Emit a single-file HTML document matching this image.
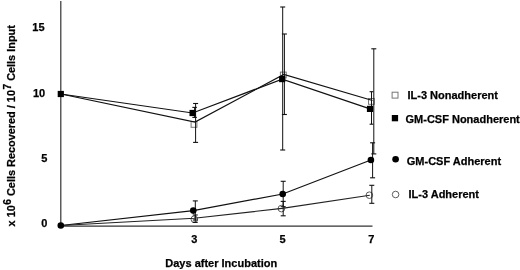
<!DOCTYPE html>
<html><head><meta charset="utf-8"><style>
html,body{margin:0;padding:0;background:#fff;}
body{width:520px;height:270px;overflow:hidden;}
svg{display:block;filter:grayscale(1);}
text{font-family:"Liberation Sans",sans-serif;font-weight:bold;font-size:11px;fill:#000;stroke:#000;stroke-width:0.25px;}
</style></head><body>
<svg width="520" height="270" viewBox="0 0 520 270">
<line x1="60.8" y1="1" x2="60.8" y2="226.3" stroke="#333" stroke-width="1.2"/>
<line x1="60.5" y1="226.2" x2="372.5" y2="226.2" stroke="#333" stroke-width="1.2"/>
<rect x="191.1" y="121.5" width="5.8" height="5.8" fill="#fff" stroke="#777" stroke-width="1"/>
<rect x="280.40000000000003" y="72.1" width="5.8" height="5.8" fill="#fff" stroke="#777" stroke-width="1"/>
<rect x="368.5" y="98.5" width="5.8" height="5.8" fill="#fff" stroke="#777" stroke-width="1"/>
<circle cx="194.3" cy="219.2" r="3.3" fill="#fff" stroke="#555" stroke-width="0.95"/>
<circle cx="281.4" cy="208.6" r="3.3" fill="#fff" stroke="#555" stroke-width="0.95"/>
<circle cx="369.4" cy="195.2" r="3.3" fill="#fff" stroke="#555" stroke-width="0.95"/>
<line x1="195.6" y1="103.5" x2="195.6" y2="142.4" stroke="#111" stroke-width="1"/>
<line x1="193.1" y1="103.5" x2="198.1" y2="103.5" stroke="#111" stroke-width="1.1"/>
<line x1="193.1" y1="142.4" x2="198.1" y2="142.4" stroke="#111" stroke-width="1.1"/>
<line x1="284.4" y1="34" x2="284.4" y2="114.5" stroke="#111" stroke-width="1"/>
<line x1="281.9" y1="34" x2="286.9" y2="34" stroke="#111" stroke-width="1.1"/>
<line x1="281.9" y1="114.5" x2="286.9" y2="114.5" stroke="#111" stroke-width="1.1"/>
<line x1="373.8" y1="48.8" x2="373.8" y2="153.9" stroke="#111" stroke-width="1"/>
<line x1="371.3" y1="48.8" x2="376.3" y2="48.8" stroke="#111" stroke-width="1.1"/>
<line x1="371.3" y1="153.9" x2="376.3" y2="153.9" stroke="#111" stroke-width="1.1"/>
<line x1="194.6" y1="107.4" x2="194.6" y2="117.4" stroke="#111" stroke-width="1"/>
<line x1="192.35" y1="107.4" x2="196.85" y2="107.4" stroke="#111" stroke-width="1.1"/>
<line x1="192.35" y1="117.4" x2="196.85" y2="117.4" stroke="#111" stroke-width="1.1"/>
<line x1="282.7" y1="7" x2="282.7" y2="150" stroke="#111" stroke-width="1"/>
<line x1="280.2" y1="7" x2="285.2" y2="7" stroke="#111" stroke-width="1.1"/>
<line x1="280.2" y1="150" x2="285.2" y2="150" stroke="#111" stroke-width="1.1"/>
<line x1="371.5" y1="91.7" x2="371.5" y2="124.2" stroke="#111" stroke-width="1"/>
<line x1="369.6" y1="91.7" x2="373.4" y2="91.7" stroke="#111" stroke-width="1.1"/>
<line x1="369.6" y1="124.2" x2="373.4" y2="124.2" stroke="#111" stroke-width="1.1"/>
<line x1="195.3" y1="200.9" x2="195.3" y2="220" stroke="#111" stroke-width="1"/>
<line x1="192.8" y1="200.9" x2="197.8" y2="200.9" stroke="#111" stroke-width="1.1"/>
<line x1="192.8" y1="220" x2="197.8" y2="220" stroke="#111" stroke-width="1.1"/>
<line x1="283.2" y1="181.3" x2="283.2" y2="206.7" stroke="#111" stroke-width="1"/>
<line x1="280.7" y1="181.3" x2="285.7" y2="181.3" stroke="#111" stroke-width="1.1"/>
<line x1="280.7" y1="206.7" x2="285.7" y2="206.7" stroke="#111" stroke-width="1.1"/>
<line x1="372.6" y1="142.8" x2="372.6" y2="177.8" stroke="#111" stroke-width="1"/>
<line x1="370.1" y1="142.8" x2="375.1" y2="142.8" stroke="#111" stroke-width="1.1"/>
<line x1="370.1" y1="177.8" x2="375.1" y2="177.8" stroke="#111" stroke-width="1.1"/>
<line x1="195.2" y1="215" x2="195.2" y2="222.4" stroke="#111" stroke-width="1"/>
<line x1="192.7" y1="215" x2="197.7" y2="215" stroke="#111" stroke-width="1.1"/>
<line x1="192.7" y1="222.4" x2="197.7" y2="222.4" stroke="#111" stroke-width="1.1"/>
<line x1="283.2" y1="201.4" x2="283.2" y2="215.8" stroke="#111" stroke-width="1"/>
<line x1="280.7" y1="201.4" x2="285.7" y2="201.4" stroke="#111" stroke-width="1.1"/>
<line x1="280.7" y1="215.8" x2="285.7" y2="215.8" stroke="#111" stroke-width="1.1"/>
<line x1="371.8" y1="185.3" x2="371.8" y2="203.3" stroke="#111" stroke-width="1"/>
<line x1="369.3" y1="185.3" x2="374.3" y2="185.3" stroke="#111" stroke-width="1.1"/>
<line x1="369.3" y1="203.3" x2="374.3" y2="203.3" stroke="#111" stroke-width="1.1"/>
<polyline points="61,94 195,122 283.8,74.5 372.5,100.5" fill="none" stroke="#111" stroke-width="1.2"/>
<polyline points="60.8,94 192.6,113 282.2,79.1 370,108.9" fill="none" stroke="#111" stroke-width="1.2"/>
<polyline points="60.8,225.5 193.3,210.6 282.7,194 370.9,160" fill="none" stroke="#111" stroke-width="1.2"/>
<polyline points="60.8,225.5 194.2,218.3 282.1,208.4 369.8,195.2" fill="none" stroke="#222" stroke-width="1.1"/>
<rect x="57.699999999999996" y="90.9" width="6.2" height="6.2" fill="#000"/>
<rect x="189.5" y="109.9" width="6.2" height="6.2" fill="#000"/>
<rect x="279.09999999999997" y="76.0" width="6.2" height="6.2" fill="#000"/>
<rect x="366.9" y="105.80000000000001" width="6.2" height="6.2" fill="#000"/>
<circle cx="60.8" cy="225.5" r="3.3" fill="#000"/>
<circle cx="193.3" cy="210.6" r="3.3" fill="#000"/>
<circle cx="282.7" cy="194" r="3.3" fill="#000"/>
<circle cx="370.9" cy="160" r="3.3" fill="#000"/>
<text x="44.6" y="31.3" text-anchor="end" >15</text>
<text x="45.2" y="97.3" text-anchor="end" >10</text>
<text x="47.3" y="161.89999999999998" text-anchor="end" >5</text>
<text x="47.3" y="226.7" text-anchor="end" >0</text>
<text x="194.2" y="242.5" text-anchor="middle" >3</text>
<text x="282.5" y="242.5" text-anchor="middle" >5</text>
<text x="371.2" y="242.5" text-anchor="middle" >7</text>
<text x="165.3" y="266.7" text-anchor="start" >Days after Incubation</text>
<rect x="392.1" y="92.2" width="5.9" height="5.9" fill="#fff" stroke="#707070" stroke-width="0.95"/>
<text x="407.5" y="98.7" text-anchor="start" >IL-3 Nonadherent</text>
<rect x="391.8" y="115" width="6.3" height="6.3" fill="#000"/>
<text x="405.5" y="122.8" text-anchor="start" >GM-CSF Nonadherent</text>
<circle cx="395.6" cy="159.2" r="3.3" fill="#000"/>
<text x="406.8" y="164.6" text-anchor="start" >GM-CSF Adherent</text>
<circle cx="395.6" cy="194.5" r="3.3" fill="#fff" stroke="#555" stroke-width="0.95"/>
<text x="408.5" y="197.8" text-anchor="start" >IL-3 Adherent</text>
<text transform="translate(14.8,226.4) rotate(-90)" x="0" y="0" style="font-size:10.9px">x 10<tspan dx="0.5" dy="-4.3" font-size="10.2">6</tspan><tspan dy="4.3"> Cells Recovered / 10</tspan><tspan dx="0.5" dy="-4.3" font-size="10.2">7</tspan><tspan dy="4.3"> Cells Input</tspan></text>
</svg>
</body></html>
